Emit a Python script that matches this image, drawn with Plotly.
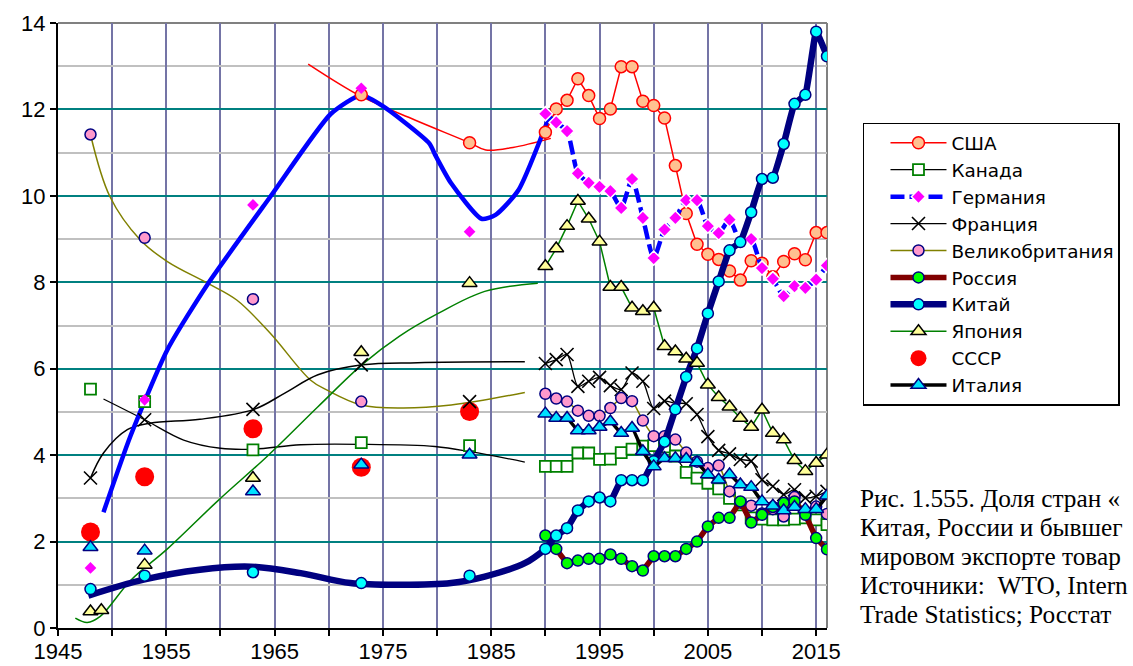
import plotly.graph_objects as go

# ---- annual shares of world merchandise exports, % (1990-2016) ----
years = list(range(1990, 2017))
usa = [11.47, 12.01, 12.21, 12.71, 12.32, 11.79, 12.01, 12.99, 12.99, 12.19, 12.09, 11.80, 10.70,
       9.59, 8.88, 8.65, 8.53, 8.26, 8.05, 8.50, 8.44, 8.13, 8.48, 8.66, 8.52, 9.15, 9.15]
canada = [3.74, 3.74, 3.74, 4.05, 4.05, 3.90, 3.91, 4.06, 4.14, 4.21, 4.22, 4.19, 3.98,
          3.60, 3.47, 3.35, 3.22, 3.00, 2.85, 2.55, 2.52, 2.50, 2.50, 2.52, 2.55, 2.50, 2.39]
germany = [11.90, 11.70, 11.50, 10.52, 10.30, 10.21, 10.11, 9.72, 10.39, 9.49, 8.56, 9.22, 9.49,
           9.90, 9.90, 9.30, 9.14, 9.45, 8.95, 9.00, 8.33, 8.08, 7.68, 7.91, 7.87, 8.06, 8.39]
france = [6.12, 6.21, 6.33, 5.59, 5.71, 5.80, 5.61, 5.52, 5.90, 5.71, 5.08, 5.25, 5.20,
          5.19, 4.94, 4.43, 4.11, 4.03, 3.90, 3.86, 3.43, 3.28, 3.09, 3.20, 3.01, 3.05, 3.16]
uk = [5.42, 5.31, 5.24, 5.03, 4.91, 4.91, 5.09, 5.32, 5.25, 4.80, 4.44, 4.44, 4.36,
      4.06, 3.85, 3.70, 3.76, 3.16, 2.90, 2.83, 2.65, 2.75, 2.58, 3.03, 2.70, 2.81, 2.64]
russia = [2.14, 1.83, 1.50, 1.56, 1.60, 1.60, 1.70, 1.60, 1.43, 1.33, 1.66, 1.66, 1.66,
          1.83, 2.00, 2.35, 2.55, 2.55, 2.93, 2.44, 2.62, 2.80, 2.89, 2.93, 2.62, 2.08, 1.82]
china = [1.83, 2.14, 2.31, 2.72, 2.93, 3.02, 2.93, 3.42, 3.42, 3.42, 3.86, 4.31, 5.06,
         5.81, 6.47, 7.28, 8.02, 8.74, 8.93, 9.62, 10.39, 10.42, 11.20, 12.13, 12.34, 13.80, 13.23]
japan = [8.37, 8.78, 9.30, 9.88, 9.47, 8.94, 7.89, 7.89, 7.41, 7.33, 7.41, 6.52, 6.40,
         6.23, 6.13, 5.63, 5.34, 5.12, 4.86, 4.65, 5.05, 4.51, 4.36, 3.88, 3.63, 3.82, 4.01]
italy = [4.96, 4.86, 4.86, 4.57, 4.57, 4.65, 4.78, 4.51, 4.63, 4.09, 3.74, 3.93, 3.93,
         3.91, 3.83, 3.55, 3.43, 3.55, 3.32, 3.26, 2.93, 2.83, 2.72, 2.80, 2.75, 2.75, 3.06]

# ---- benchmark years before 1990 ----
early_years = [1948, 1953, 1963, 1973, 1983]
usa_early_years = [1973, 1983]
usa_early = [12.34, 11.23]
canada_early = [5.53, 5.24, 4.12, 4.29, 4.22]
germany_early = [1.39, 5.28, 9.79, 12.49, 9.17]
france_early = [3.47, 4.82, 5.06, 6.09, 5.24]
uk_early_years = [1948, 1953, 1963, 1973]
uk_early = [11.42, 9.03, 7.61, 5.24]
china_early = [0.90, 1.21, 1.29, 1.04, 1.21]
japan_early_years = [1948, 1949, 1953, 1963, 1973, 1983]
japan_early = [0.38, 0.41, 1.46, 3.47, 6.38, 7.98]
italy_early = [1.87, 1.79, 3.16, 3.78, 4.01]
ussr = [2.22, 3.50, 4.61, 3.72, 5.01]

# ---- smoothed long-run curves, 1946-1990 ----
usa_curve_x = [1968.1, 1973.0, 1978.0, 1983.0, 1984.5, 1987.0, 1990.5]
usa_curve_y = [13.05, 12.30, 11.75, 11.23, 11.06, 11.12, 11.33]
canada_curve_x = [1949.2, 1953.0, 1956.6, 1960.0, 1963.1, 1967.4, 1973.0, 1979.8, 1983.1, 1988.1]
canada_curve_y = [5.30, 4.82, 4.35, 4.16, 4.14, 4.24, 4.25, 4.20, 4.08, 3.84]
germany_curve_x = [1949.2, 1951.7, 1955.1, 1958.8, 1964.6, 1970.2, 1973.0, 1975.1, 1979.3, 1979.8,
                   1981.3, 1984.1, 1985.4, 1987.5, 1990.6]
germany_curve_y = [2.68, 4.45, 6.44, 7.95, 9.98, 11.90, 12.33, 12.06, 11.21, 10.96,
                   10.29, 9.47, 9.56, 10.13, 12.00]
france_curve_x = [1948.0, 1949.2, 1951.4, 1953.5, 1958.1, 1963.1, 1965.9, 1969.0, 1973.1, 1978.2, 1988.1]
france_curve_y = [3.47, 4.05, 4.59, 4.74, 4.83, 5.06, 5.43, 5.86, 6.09, 6.14, 6.16]
uk_curve_x = [1948.0, 1949.8, 1952.6, 1955.1, 1958.8, 1961.5, 1964.6, 1968.3, 1969.8, 1973.0,
              1976.7, 1981.3, 1988.1]
uk_curve_y = [11.42, 9.98, 8.98, 8.48, 7.98, 7.59, 6.82, 5.74, 5.51, 5.16, 5.09, 5.16, 5.45]
china_curve_x = [1947.8, 1952.9, 1958.1, 1962.8, 1967.4, 1972.0, 1976.7, 1981.3, 1984.4, 1988.1, 1990.0]
china_curve_y = [0.75, 1.12, 1.35, 1.42, 1.27, 1.04, 1.00, 1.04, 1.19, 1.50, 1.83]
japan_curve_x = [1946.6, 1947.7, 1948.9, 1951.7, 1955.1, 1959.7, 1964.3, 1969.0, 1973.1, 1976.5,
                 1980.1, 1984.4, 1989.3]
japan_curve_y = [0.23, 0.13, 0.27, 1.10, 1.83, 2.93, 3.97, 5.12, 6.10, 6.75, 7.28, 7.79, 7.98]

# ---- caption lines at the right of the chart ----
caption_lines = ["Рис. 1.555. Доля стран «",
                 "Китая, России и бывшег",
                 "мировом экспорте товар",
                 "Источники:  WTO, Intern",
                 "Trade Statistics; Росстат"]

# ---- styles ----
NAVY = "#000080"
styles = {
    "США": dict(line=dict(color="#FF0000", width=1.5),
                marker=dict(symbol="circle", size=12, color="#FFC090", line=dict(color="#FF0000", width=1.5))),
    "Канада": dict(line=dict(color="#000000", width=1.2),
                   marker=dict(symbol="square", size=11, color="#FFFFFF", line=dict(color="#008000", width=1.8))),
    "Германия": dict(line=dict(color="#0000FF", width=4.5, dash="14px,5px", shape="spline", smoothing=0.6),
                     marker=dict(symbol="diamond", size=11, color="#FF00FF", line=dict(color="#FFFFFF", width=1.5))),
    "Франция": dict(line=dict(color="#000000", width=1.3, shape="spline", smoothing=0.7),
                    marker=dict(symbol="x-thin", size=13, color="#000000", line=dict(color="#000000", width=1.6))),
    "Великобритания": dict(line=dict(color="#808000", width=1.5, shape="spline", smoothing=0.5),
                           marker=dict(symbol="circle", size=11, color="#FF99CC", line=dict(color=NAVY, width=1.5))),
    "Россия": dict(line=dict(color="#800000", width=5.5),
                   marker=dict(symbol="circle", size=11, color="#00FF00", line=dict(color=NAVY, width=1.5))),
    "Китай": dict(line=dict(color=NAVY, width=6.5, shape="spline", smoothing=0.3),
                  marker=dict(symbol="circle", size=11, color="#00FFFF", line=dict(color=NAVY, width=1.5))),
    "Япония": dict(line=dict(color="#008000", width=1.5),
                   marker=dict(symbol="triangle-up", size=13, color="#FFFF99", line=dict(color="#000000", width=1.5))),
    "СССР": dict(marker=dict(symbol="circle", size=19, color="#FF0000")),
    "Италия": dict(line=dict(color="#000000", width=3.5, shape="spline", smoothing=0.3),
                   marker=dict(symbol="triangle-up", size=13, color="#00E0FF", line=dict(color=NAVY, width=1.5))),
}
legend_order = ["США", "Канада", "Германия", "Франция", "Великобритания",
                "Россия", "Китай", "Япония", "СССР", "Италия"]

fig = go.Figure()


def curve(x, y, color, width, smoothing=1.0):
    fig.add_trace(go.Scatter(x=x, y=y, mode="lines", showlegend=False, hoverinfo="skip",
                             line=dict(color=color, width=width, shape="spline", smoothing=smoothing)))


def early_points(name, x, y, marker=None):
    fig.add_trace(go.Scatter(x=x, y=y, mode="markers", showlegend=False, name=name,
                             marker=marker or styles[name]["marker"]))


# long-run curves
curve(usa_curve_x, usa_curve_y, "#FF0000", 1.5)
curve(canada_curve_x, canada_curve_y, "#000000", 1.3)
curve(uk_curve_x, uk_curve_y, "#808000", 1.5)
curve(france_curve_x, france_curve_y, "#000000", 1.5)
curve(japan_curve_x, japan_curve_y, "#008000", 1.5)
curve(germany_curve_x, germany_curve_y, "#0000FF", 4.5, 0.6)
curve(china_curve_x, china_curve_y, NAVY, 6.5)

# former USSR
fig.add_trace(go.Scatter(x=early_years, y=ussr, mode="markers", name="СССР",
                         legendrank=legend_order.index("СССР"), marker=styles["СССР"]["marker"]))

# benchmark-year points
early_points("США", usa_early_years, usa_early)
early_points("Канада", early_years, canada_early)
early_points("Германия", early_years, germany_early,
             dict(symbol="diamond", size=9, color="#FF00FF"))
early_points("Франция", early_years, france_early)
early_points("Великобритания", uk_early_years, uk_early)
early_points("Китай", early_years, china_early)
early_points("Япония", japan_early_years, japan_early)
early_points("Италия", early_years, italy_early)

# annual series 1990-2016
series = [("США", usa), ("Канада", canada), ("Германия", germany), ("Франция", france),
          ("Великобритания", uk), ("Россия", russia), ("Китай", china), ("Япония", japan),
          ("Италия", italy)]
for name, vals in series:
    st = styles[name]
    fig.add_trace(go.Scatter(x=years, y=vals, mode="lines+markers", name=name,
                             legendrank=legend_order.index(name),
                             line=st["line"], marker=st["marker"]))

AX_FONT = dict(family="Liberation Sans, Arial, sans-serif", size=22, color="#000000")

fig.update_xaxes(range=[1945, 2016], tickmode="array", tickvals=list(range(1945, 2016, 10)),
                 ticks="outside", ticklen=6, tickwidth=2, tickcolor="#000000",
                 ticklabelstandoff=-3,
                 showline=True, linecolor="#000000", linewidth=2,
                 showgrid=True, gridcolor="#7474A6", gridwidth=2, zeroline=False,
                 minor=dict(tick0=1945, dtick=5, ticks="outside", ticklen=6, tickwidth=2,
                            tickcolor="#000000", showgrid=True, gridcolor="#7474A6", gridwidth=2),
                 tickfont=AX_FONT, fixedrange=True)
fig.update_yaxes(range=[0, 14], dtick=2, tick0=0, ticks="outside", ticklen=6, tickwidth=2,
                 tickcolor="#000000", showline=True, linecolor="#000000", linewidth=2,
                 showgrid=True, gridcolor="#008080", gridwidth=2, zeroline=False,
                 minor=dict(dtick=1, showgrid=True, gridcolor="#C0C0C0", gridwidth=2),
                 tickfont=AX_FONT, fixedrange=True)

# light frame on the top and right sides of the plotting area
fig.add_shape(type="line", xref="paper", yref="paper", x0=0, x1=1, y0=1, y1=1,
              line=dict(color="#808080", width=2), layer="between")
fig.add_shape(type="line", xref="paper", yref="paper", x0=1, x1=1, y0=0, y1=1,
              line=dict(color="#808080", width=2), layer="between")

# caption, one annotation per line
caption_y = [0.2149, 0.1669, 0.1190, 0.0711, 0.0231]
for text, yy in zip(caption_lines, caption_y):
    fig.add_annotation(text=text, xref="paper", yref="paper", x=1.0400, y=yy,
                       xanchor="left", yanchor="middle", align="left", showarrow=False,
                       font=dict(family="Liberation Serif, Times New Roman, serif", size=25.3,
                                 color="#000000"))

fig.update_layout(
    width=1133, height=666,
    margin=dict(l=58, r=306, t=23, b=38, autoexpand=False),
    paper_bgcolor="#FFFFFF", plot_bgcolor="#FFFFFF",
    showlegend=True,
    legend=dict(x=1.0468, y=0.835, xanchor="left", yanchor="top",
                bgcolor="#FFFFFF", bordercolor="#000000", borderwidth=1.5,
                font=dict(family="DejaVu Sans, Liberation Sans, sans-serif", size=18.4, color="#000000"),
                itemwidth=56, indentation=21, entrywidth=260, tracegroupgap=0),
    hovermode=False,
)

fig.write_html("out.html")
